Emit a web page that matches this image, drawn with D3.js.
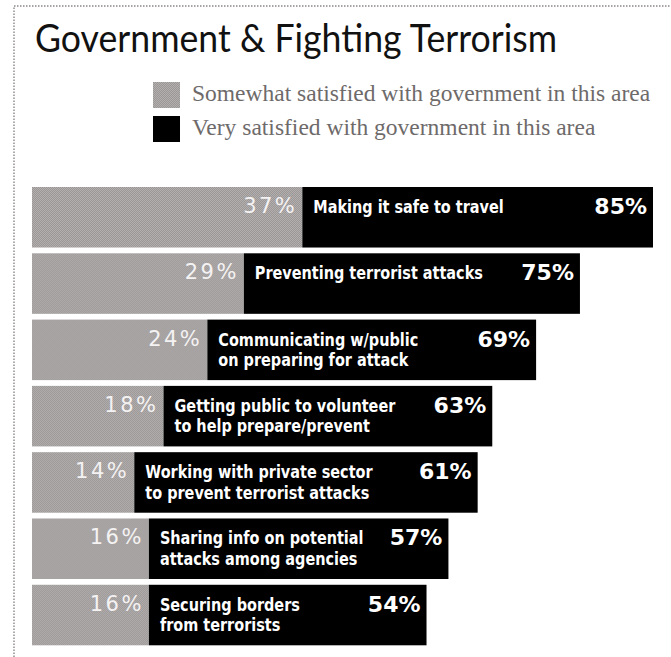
<!DOCTYPE html>
<html>
<head>
<meta charset="utf-8">
<script src="https://cdn.jsdelivr.net/npm/d3@7"></script>
<style>
  html, body { margin: 0; padding: 0; background: #fff; }
  svg { display: block; }
</style>
</head>
<body>
<svg id="chart" width="671" height="657"></svg>
<script>
// Share of respondents satisfied with government efforts, by area
const areas = [
  ["Making it safe to travel"],
  ["Preventing terrorist attacks"],
  ["Communicating w/public", "on preparing for attack"],
  ["Getting public to volunteer", "to help prepare/prevent"],
  ["Working with private sector", "to prevent terrorist attacks"],
  ["Sharing info on potential", "attacks among agencies"],
  ["Securing borders", "from terrorists"]
];
const somewhat = [37, 29, 24, 18, 14, 16, 16];
const totalSatisfied = [85, 75, 69, 63, 61, 57, 54];
const legendLabels = [
  "Somewhat satisfied with government in this area",
  "Very satisfied with government in this area"
];
const title = "Government & Fighting Terrorism";

const svg = d3.select("#chart");
const W = 671, H = 657;

// dithered grey used for the "somewhat" segment
const defs = svg.append("defs");
const pat = defs.append("pattern")
  .attr("id", "dither").attr("patternUnits", "userSpaceOnUse")
  .attr("width", 2).attr("height", 2);
pat.append("rect").attr("width", 2).attr("height", 2).attr("fill", "#b3afaf");
pat.append("rect").attr("width", 1).attr("height", 1).attr("fill", "#9b9797");
pat.append("rect").attr("x", 1).attr("y", 1).attr("width", 1).attr("height", 1).attr("fill", "#9b9797");

// dotted frame (top and left)
svg.append("path")
  .attr("d", `M14,${H} L14,6 L${W},6`)
  .attr("fill", "none").attr("stroke", "#8a8686")
  .attr("stroke-width", 1.4).attr("stroke-dasharray", "1.5,1.5");

// title
svg.append("text")
  .attr("x", 35).attr("y", 52)
  .attr("font-family", "Lato, 'Open Sans', sans-serif")
  .attr("font-size", 39).attr("fill", "#111")
  .attr("textLength", 522).attr("lengthAdjust", "spacingAndGlyphs")
  .text(title);

// legend
const legendColors = ["url(#dither)", "#000"];
const lg = svg.append("g").selectAll("g").data(legendLabels).join("g")
  .attr("transform", (d, i) => `translate(153, ${82 + i * 34})`);
lg.append("rect").attr("width", 27).attr("height", 26)
  .attr("fill", (d, i) => legendColors[i]);
lg.append("text").attr("x", 39).attr("y", 19)
  .attr("font-family", "'Liberation Serif', 'DejaVu Serif', serif")
  .attr("font-size", 23.5).attr("fill", "#6e6a6a")
  .text(d => d);

// scales
const rows = areas.map((lines, i) => ({
  lines, some: somewhat[i], total: totalSatisfied[i], very: totalSatisfied[i] - somewhat[i]
}));
const x = d3.scaleLinear().domain([0, 85]).range([32, 653]);
const y = d3.scaleBand().domain(d3.range(rows.length))
  .range([187, 645.3]).paddingInner(0.087).paddingOuter(0);

const bar = svg.append("g").selectAll("g").data(rows).join("g")
  .attr("transform", (d, i) => `translate(0, ${y(i)})`);

bar.append("rect")
  .attr("x", x(0)).attr("width", d => x(d.some) - x(0))
  .attr("height", y.bandwidth()).attr("fill", "url(#dither)");

bar.append("rect")
  .attr("x", d => x(d.some)).attr("width", d => x(d.total) - x(d.some))
  .attr("height", y.bandwidth()).attr("fill", "#000");

// somewhat-satisfied value, right-aligned at the end of the grey segment
bar.append("text")
  .attr("x", d => x(d.some) - 5).attr("y", 26)
  .attr("text-anchor", "end")
  .attr("font-family", "'DejaVu Sans', sans-serif")
  .attr("font-size", 21).attr("letter-spacing", 2.5)
  .attr("fill", "#f4f2f2")
  .text(d => d.some + "%");

// area name inside the black segment, one condensed bold line per text
bar.each(function (d) {
  d3.select(this).selectAll("text.area").data(d.lines).join("text")
    .attr("class", "area")
    .attr("transform", (t, i) => `translate(${x(d.some) + 11}, ${26 + i * 20.5}) scale(0.85, 1)`)
    .attr("font-family", "'DejaVu Sans', sans-serif")
    .attr("font-size", 17).attr("font-weight", "bold").attr("fill", "#fff")
    .text(t => t);
});

// total satisfied value at the end of the bar
bar.append("text")
  .attr("x", d => x(d.total) - 6).attr("y", 27)
  .attr("text-anchor", "end")
  .attr("font-family", "'DejaVu Sans', sans-serif")
  .attr("font-size", 22).attr("font-weight", "bold").attr("fill", "#fff")
  .text(d => d.total + "%");
</script>
</body>
</html>
